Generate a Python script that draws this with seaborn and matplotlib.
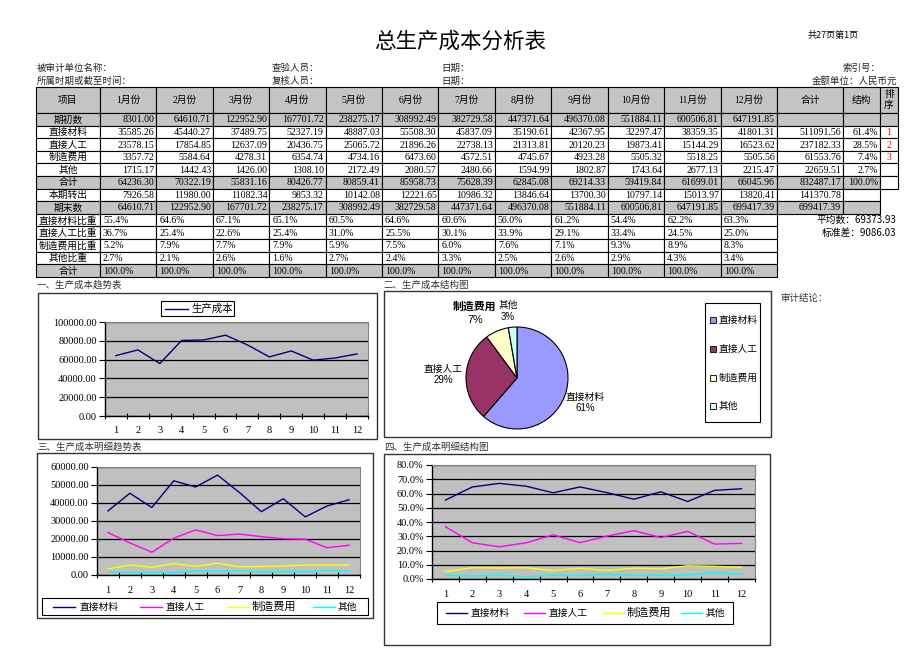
import numpy as np
import pandas as pd
import matplotlib
matplotlib.use("Agg")
import matplotlib.pyplot as plt
from matplotlib.patches import Rectangle
from matplotlib.ticker import FuncFormatter
import seaborn as sns

# ---------------- data ----------------
month_idx = [1, 2, 3, 4, 5, 6, 7, 8, 9, 10, 11, 12]
month_labels = ["1月份", "2月份", "3月份", "4月份", "5月份", "6月份",
                "7月份", "8月份", "9月份", "10月份", "11月份", "12月份"]
opening = [8301.00, 64610.71, 122952.90, 167701.72, 238275.17, 308992.49,
           382729.58, 447371.64, 496370.08, 551884.11, 600506.81, 647191.85]
material = [35585.26, 45440.27, 37489.75, 52327.19, 48887.03, 55508.30,
            45837.09, 35190.61, 42367.95, 32297.47, 38359.35, 41801.31]
labor = [23578.15, 17854.85, 12637.09, 20436.75, 25065.72, 21896.26,
         22738.13, 21313.81, 20120.23, 19873.41, 15144.29, 16523.62]
overhead = [3357.72, 5584.64, 4278.31, 6354.74, 4734.16, 6473.60,
            4572.51, 4745.67, 4923.28, 5505.32, 5518.25, 5505.56]
other = [1715.17, 1442.43, 1426.00, 1308.10, 2172.49, 2080.57,
         2480.66, 1594.99, 1802.87, 1743.64, 2677.13, 2215.47]
total = [64236.30, 70322.19, 55831.16, 80426.77, 80859.41, 85958.73,
         75628.39, 62845.08, 69214.33, 59419.84, 61699.01, 66045.96]
transfer = [7926.58, 11980.00, 11082.34, 9853.32, 10142.08, 12221.65,
            10986.32, 13846.64, 13700.30, 10797.14, 15013.97, 13820.41]
closing = [64610.71, 122952.90, 167701.72, 238275.17, 308992.49, 382729.58,
           447371.64, 496370.08, 551884.11, 600506.81, 647191.85, 699417.39]
mat_pct = [55.4, 64.6, 67.1, 65.1, 60.5, 64.6, 60.6, 56.0, 61.2, 54.4, 62.2, 63.3]
lab_pct = [36.7, 25.4, 22.6, 25.4, 31.0, 25.5, 30.1, 33.9, 29.1, 33.4, 24.5, 25.0]
ovh_pct = [5.2, 7.9, 7.7, 7.9, 5.9, 7.5, 6.0, 7.6, 7.1, 9.3, 8.9, 8.3]
oth_pct = [2.7, 2.1, 2.6, 1.6, 2.7, 2.4, 3.3, 2.5, 2.6, 2.9, 4.3, 3.4]
sum_pct = [100.0, 100.0, 100.0, 100.0, 100.0, 100.0,
           100.0, 100.0, 100.0, 100.0, 100.0, 100.0]

items = ["直接材料", "直接人工", "制造费用", "其他"]
item_totals = [511091.56, 237182.33, 61553.76, 22659.51]
item_struct = [61.4, 28.5, 7.4, 2.7]
item_rank = ["1", "2", "3", ""]
grand_total = 832487.17
transfer_total = 141370.78
closing_total = 699417.39
pie_labels = ["61%", "29%", "7%", "3%"]
avg_text = "平均数：69373.93"
std_text = "标准差：9086.03"

colors = {"直接材料": "#000080", "直接人工": "#FF00FF",
          "制造费用": "#FFFF00", "其他": "#00FFFF"}
pie_colors = ["#9999FF", "#993366", "#FFFFCC", "#CCFFFF"]

# ---------------- figure ----------------
plt.rcParams["font.family"] = ["Liberation Serif", "Noto Sans CJK SC", "DejaVu Sans"]
SANS = ["Liberation Sans", "Noto Sans CJK SC", "DejaVu Sans"]
CJK = ["Noto Sans CJK SC", "DejaVu Sans"]
W, H = 920, 651
fig = plt.figure(figsize=(9.2, 6.51), dpi=100)
fig.patch.set_facecolor("white")


def rect(x0, y0, x1, y1):
    return [x0 / W, 1 - y1 / H, (x1 - x0) / W, (y1 - y0) / H]


bg = fig.add_axes([0, 0, 1, 1])
bg.set_xlim(0, W)
bg.set_ylim(H, 0)
bg.axis("off")

# title and header texts
bg.text(460, 42, "总生产成本分析表", ha="center", va="center", fontsize=15.5,
        family=CJK, weight="medium")
bg.text(833, 35, "共27页第1页", ha="center", va="center", fontsize=6.5, family=CJK)
TS = 6.8
bg.text(37, 68, "被审计单位名称：", ha="left", va="center", fontsize=TS, family=CJK, color="#222")
bg.text(37, 81, "所属时期或截至时间：", ha="left", va="center", fontsize=TS, family=CJK, color="#222")
bg.text(272, 68, "查验人员：", ha="left", va="center", fontsize=TS, family=CJK, color="#222")
bg.text(272, 81, "复核人员：", ha="left", va="center", fontsize=TS, family=CJK, color="#222")
bg.text(441, 68, "日期：", ha="left", va="center", fontsize=TS, family=CJK, color="#222")
bg.text(441, 81, "日期：", ha="left", va="center", fontsize=TS, family=CJK, color="#222")
bg.text(880, 68, "索引号：", ha="right", va="center", fontsize=TS, family=CJK, color="#222")
bg.text(897, 81, "金额单位：人民币元", ha="right", va="center", fontsize=TS, family=CJK, color="#222")

# ---------------- table ----------------
SHADE = "#c4c4c4"
col_x = [36.0] + [100 + (777 - 100) * i / 12 for i in range(13)] + [843.0, 880.0, 898.0]
top, hdr_bot, rh = 86.5, 113.0, 12.6
NUM_FS = 7.1
LAB_FS = 7.0


def cell(ci, y0, y1, text="", align="center", shade=False, color="black", fs=NUM_FS):
    x0 = col_x[ci]
    x1 = col_x[ci + 1]
    bg.add_patch(Rectangle((x0, y0), x1 - x0, y1 - y0,
                           facecolor=SHADE if shade else "white",
                           edgecolor="black", lw=0.8, zorder=2))
    if text:
        if align == "right":
            tx, ha = x1 - 2, "right"
        elif align == "left":
            tx, ha = x0 + 3, "left"
        else:
            tx, ha = (x0 + x1) / 2, "center"
        bg.text(tx, (y0 + y1) / 2 + 0.5, text, ha=ha, va="center", fontsize=fs,
                color=color, zorder=3)


# header
cell(0, top, hdr_bot, "项目", shade=True, fs=LAB_FS)
for i, m in enumerate(month_labels):
    cell(1 + i, top, hdr_bot, m, shade=True, fs=LAB_FS)
cell(13, top, hdr_bot, "合计", shade=True, fs=LAB_FS)
cell(14, top, hdr_bot, "结构", shade=True, fs=LAB_FS)
cell(15, top, hdr_bot, "排\n序", shade=True, fs=LAB_FS)

money_rows = [("期初数", opening, True), ("直接材料", material, False),
              ("直接人工", labor, False), ("制造费用", overhead, False),
              ("其他", other, False), ("合计", total, True),
              ("本期转出", transfer, False), ("期末数", closing, True)]
for r, (lab, vals, sh) in enumerate(money_rows):
    y0 = hdr_bot + r * rh
    y1 = y0 + rh
    cell(0, y0, y1, lab, shade=sh, fs=LAB_FS)
    for i, v in enumerate(vals):
        cell(1 + i, y0, y1, f"{v:.2f}", align="right", shade=sh)
    if r == 0:
        cell(13, y0, y1, "", shade=True)
        cell(14, y0, y1, "", shade=True)
        cell(15, y0, y1, "", shade=True)
    elif 1 <= r <= 4:
        k = r - 1
        cell(13, y0, y1, f"{item_totals[k]:.2f}", align="right")
        cell(14, y0, y1, f"{item_struct[k]:.1f}%", align="right")
        cell(15, y0, y1, item_rank[k], color="#FF0000")
    elif r == 5:
        cell(13, y0, y1, f"{grand_total:.2f}", align="right", shade=True)
        cell(14, y0, y1, "100.0%", align="right", shade=True)
        cell(15, y0, y1, "")
    elif r == 6:
        cell(13, y0, y1, f"{transfer_total:.2f}", align="right")
        cell(14, y0, y1, "")
    elif r == 7:
        cell(13, y0, y1, f"{closing_total:.2f}", align="right", shade=True)
        cell(14, y0, y1, "", shade=True)

pct_rows = [("直接材料比重", mat_pct, False), ("直接人工比重", lab_pct, False),
            ("制造费用比重", ovh_pct, False), ("其他比重", oth_pct, False),
            ("合计", sum_pct, True)]
for j, (lab, vals, sh) in enumerate(pct_rows):
    r = 8 + j
    y0 = hdr_bot + r * rh
    y1 = y0 + rh
    cell(0, y0, y1, lab, shade=sh, fs=LAB_FS)
    for i, v in enumerate(vals):
        cell(1 + i, y0, y1, f"{v:.1f}%", align="left", shade=sh)

bg.text(896, hdr_bot + 8.5 * rh, avg_text, ha="right", va="center", fontsize=7, family=CJK)
bg.text(896, hdr_bot + 9.5 * rh, std_text, ha="right", va="center", fontsize=7, family=CJK)

# ---------------- chart frames & section titles ----------------
def frame(x0, y0, x1, y1):
    bg.add_patch(Rectangle((x0, y0), x1 - x0, y1 - y0, facecolor="white",
                           edgecolor="#333333", lw=1.0, zorder=1))


frame(38, 293, 377, 439)
frame(384, 291, 771, 437)
frame(37, 453, 373, 618)
frame(384, 454, 770, 645)
SFS = 6.8
bg.text(37, 285, "一、生产成本趋势表", ha="left", va="center", fontsize=SFS, family=CJK, color="#333")
bg.text(384, 285, "二、生产成本结构图", ha="left", va="center", fontsize=SFS, family=CJK, color="#333")
bg.text(37, 447, "三、生产成本明细趋势表", ha="left", va="center", fontsize=SFS, family=CJK, color="#333")
bg.text(384, 447, "四、生产成本明细结构图", ha="left", va="center", fontsize=SFS, family=CJK, color="#333")
bg.text(780, 298, "审计结论：", ha="left", va="center", fontsize=SFS, family=CJK, color="#333")


def style_line_ax(ax, ymax, ystep, fmt, xpad):
    ax.set_facecolor("#c0c0c0")
    ax.set_xlim(0.5, 12.5)
    ax.set_ylim(0, ymax)
    ax.set_xticks(month_idx)
    ax.set_xticklabels([str(m) for m in month_idx])
    ax.set_xticks(np.arange(0.5, 13, 1), minor=True)
    ax.tick_params(axis="x", which="major", length=0, pad=xpad, labelsize=7.5)
    ax.tick_params(axis="x", which="minor", length=5, direction="inout", width=0.8)
    ax.set_yticks(np.arange(0, ymax + ystep / 2, ystep))
    ax.yaxis.set_major_formatter(FuncFormatter(fmt))
    ax.tick_params(axis="y", length=4, direction="out", pad=2, labelsize=7.5, width=0.8)
    ax.grid(axis="y", color="black", lw=0.9)
    ax.set_axisbelow(True)
    for s in ["left", "bottom"]:
        ax.spines[s].set_color("black")
        ax.spines[s].set_linewidth(1.0)
    for s in ["top", "right"]:
        ax.spines[s].set_color("#808080")
        ax.spines[s].set_linewidth(0.8)
    ax.set_xlabel("")
    ax.set_ylabel("")


# ---------------- chart 1 ----------------
ax1 = fig.add_axes(rect(105, 322, 368, 416))
df1 = pd.DataFrame({"月": month_idx, "生产成本": total})
sns.lineplot(data=df1, x="月", y="生产成本", color="#000080", lw=1.0, ax=ax1, errorbar=None)
style_line_ax(ax1, 100000, 20000, lambda v, p: f"{v:.2f}", 7)
bg.add_patch(Rectangle((161, 301), 73, 15, facecolor="white", edgecolor="black", lw=0.8, zorder=5))
bg.plot([165, 188], [308.5, 308.5], color="#000080", lw=1.0, zorder=6)
bg.text(191, 308.5, "生产成本", ha="left", va="center", fontsize=7.5, family=CJK, zorder=6)

# ---------------- chart 2 (pie) ----------------
axp = fig.add_axes(rect(465, 326, 569, 430))
axp.pie(item_totals, colors=pie_colors, startangle=90, counterclock=False,
        wedgeprops=dict(edgecolor="black", linewidth=0.8))
axp.set_xlim(-1.02, 1.02)
axp.set_ylim(-1.02, 1.02)
axp.set_aspect("equal")
PFS = 7
bg.text(585, 397, items[0], ha="center", va="center", fontsize=PFS, family=CJK)
bg.text(585, 408, pie_labels[0], ha="center", va="center", fontsize=PFS, family=SANS)
bg.text(443, 369, items[1], ha="center", va="center", fontsize=PFS, family=CJK)
bg.text(443, 380, pie_labels[1], ha="center", va="center", fontsize=PFS, family=SANS)
bg.text(475, 307, items[2], ha="center", va="center", fontsize=7.8, family=CJK, weight="bold")
bg.text(475, 320, pie_labels[2], ha="center", va="center", fontsize=7.8, family=SANS)
bg.text(508, 305, items[3], ha="center", va="center", fontsize=PFS, family=CJK)
bg.text(508, 317, pie_labels[3], ha="center", va="center", fontsize=PFS, family=SANS)
# pie legend
bg.add_patch(Rectangle((705, 303), 55, 119, facecolor="white", edgecolor="black", lw=0.8, zorder=5))
for k, yy in enumerate([320, 349, 378, 406]):
    bg.add_patch(Rectangle((710, yy - 3), 6, 6, facecolor=pie_colors[k], edgecolor="black", lw=0.6, zorder=6))
    bg.text(719, yy, items[k], ha="left", va="center", fontsize=7, family=CJK, zorder=6)

# ---------------- long data for charts 3/4 ----------------
df_amt = pd.DataFrame({
    "月": month_idx * 4,
    "值": material + labor + overhead + other,
    "项目": sum([[it] * 12 for it in items], []),
})
df_pct = pd.DataFrame({
    "月": month_idx * 4,
    "值": [v / 100 for v in mat_pct + lab_pct + ovh_pct + oth_pct],
    "项目": sum([[it] * 12 for it in items], []),
})

# ---------------- chart 3 ----------------
ax3 = fig.add_axes(rect(97, 467, 360, 575))
sns.lineplot(data=df_amt, x="月", y="值", hue="项目", palette=colors, lw=1.0,
             ax=ax3, legend=False, errorbar=None)
style_line_ax(ax3, 60000, 10000, lambda v, p: f"{v:.2f}", 8)
bg.add_patch(Rectangle((42, 598), 326, 17, facecolor="white", edgecolor="black", lw=0.8, zorder=5))
for (lx, tx), it in zip([(53, 80), (140, 166), (227, 252), (313, 338)], items):
    bg.plot([lx, lx + 22], [606.5, 606.5], color=colors[it], lw=1.0, zorder=6)
    fs = 8 if it == "制造费用" else 7
    bg.text(tx, 606.5, it, ha="left", va="center", fontsize=fs, family=CJK, zorder=6)

# ---------------- chart 4 ----------------
ax4 = fig.add_axes(rect(432, 465, 755, 579))
sns.lineplot(data=df_pct, x="月", y="值", hue="项目", palette=colors, lw=1.0,
             ax=ax4, legend=False, errorbar=None)
style_line_ax(ax4, 0.8, 0.1, lambda v, p: f"{v * 100:.1f}%", 8)
bg.add_patch(Rectangle((437, 602), 296, 22, facecolor="white", edgecolor="black", lw=0.8, zorder=5))
for (lx, tx), it in zip([(446, 471), (524, 549), (603, 627), (681, 706)], items):
    bg.plot([lx, lx + 21], [612.5, 612.5], color=colors[it], lw=1.0, zorder=6)
    fs = 8 if it == "制造费用" else 7
    bg.text(tx, 612.5, it, ha="left", va="center", fontsize=fs, family=CJK, zorder=6)

fig.savefig("out.png", dpi=100)
